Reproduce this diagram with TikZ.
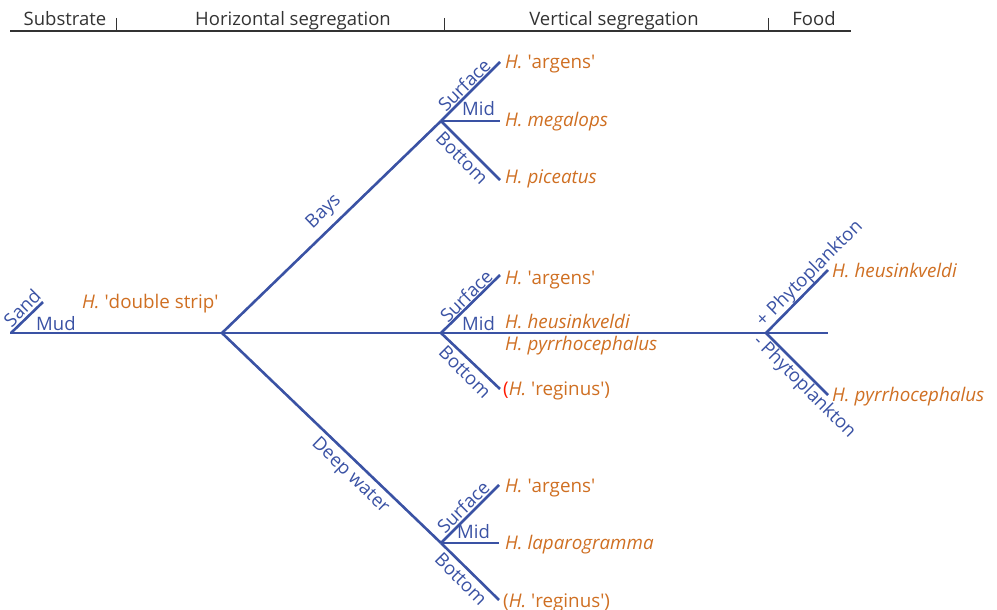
\documentclass[tikz,border=0pt]{standalone}
\usepackage{fontspec}
\setmainfont{Open Sans}
\definecolor{lineblue}{HTML}{3A52A4}
\definecolor{sporange}{HTML}{CF6F22}
\definecolor{hdrgray}{HTML}{333333}
\tikzset{
  branch/.style={draw=lineblue, line width=2.6pt},
  hdrline/.style={draw=hdrgray, line width=1.3pt},
  hdrtext/.style={text=hdrgray, font=\fontsize{18.5}{20}\selectfont, inner sep=0pt, anchor=base},
  lab/.style={text=lineblue, font=\fontsize{18.5}{20}\selectfont, inner sep=0pt},
  sp/.style={text=sporange, font=\fontsize{18.8}{20}\selectfont, inner sep=0pt, anchor=base west},
}
\newcommand{\Hs}{\textit{H.}}
\newcommand{\sq}{\textquotesingle}
\begin{document}
\begin{tikzpicture}[x=1pt,y=-1pt]
\useasboundingbox (0,0) rectangle (997,610);
% header
\coordinate (h0) at (10,31);
\coordinate (h1) at (851,31);
\draw[hdrline] (h0) -- (h1);
\foreach \x/\n in {116/a,444/b,768/c}{
  \coordinate (t\n top) at (\x,18);
  \coordinate (t\n bot) at (\x,31);
  \draw[hdrgray, line width=1pt] (t\n top) -- (t\n bot);
}
\node[hdrtext] (hsub) at (65,26) {Substrate};
\node[hdrtext] (hhor) at (293,26) {Horizontal segregation};
\node[hdrtext] (hver) at (614,26) {Vertical segregation};
\node[hdrtext] (hfood) at (814,26) {Food};

% junctions and ends
\coordinate (root) at (10,333);
\coordinate (sand) at (43,302);
\coordinate (J) at (222,333);
\coordinate (bay) at (441,121);
\coordinate (mid) at (441,333);
\coordinate (deep) at (441,543);
\coordinate (b1) at (500,62);
\coordinate (b2) at (500,121);
\coordinate (b3) at (500,180);
\coordinate (m1) at (500,275);
\coordinate (m3) at (500,389);
\coordinate (d1) at (499,485);
\coordinate (d2) at (499,543);
\coordinate (d3) at (499,600);
\coordinate (food) at (766,333);
\coordinate (f1) at (828,270);
\coordinate (f2) at (828,333);
\coordinate (f3) at (828,395);

\draw[branch] (root) -- (J) -- (mid) -- (food) -- (f2);
\draw[branch] (root) ++(1,0) -- (sand);
\draw[branch] (J) -- (bay);
\draw[branch] (J) -- (deep);
\draw[branch] (bay) -- (b1);
\draw[branch] (bay) -- (b2);
\draw[branch] (bay) -- (b3);
\draw[branch] (mid) -- (m1);
\draw[branch] (mid) -- (m3);
\draw[branch] (deep) -- (d1);
\draw[branch] (deep) -- (d2);
\draw[branch] (deep) -- (d3);
\draw[branch] (food) -- (f1);
\draw[branch] (food) -- (f3);

% branch labels
\node[lab, rotate=45] (lsand) at (22,308) {Sand};
\node[lab, anchor=base west] (lmud) at (36,330) {Mud};
\node[lab, rotate=44] (lbays) at (324,212) {Bays};
\node[lab, rotate=-44] (ldeep) at (350,476) {Deep water};
\node[lab, rotate=45] (lbs) at (464,85) {Surface};
\node[lab, anchor=base west] (lbm) at (462,115) {Mid};
\node[lab, rotate=-45] (lbb) at (462,158) {Bottom};
\node[lab, rotate=45] (lms) at (466,296) {Surface};
\node[lab, anchor=base west] (lmm) at (462,330) {Mid};
\node[lab, rotate=-45] (lmb) at (465,372) {Bottom};
\node[lab, rotate=45] (lds) at (463,507) {Surface};
\node[lab, anchor=base west] (ldm) at (457,538) {Mid};
\node[lab, rotate=-45] (ldb) at (461,579) {Bottom};
\node[lab, rotate=45] (lfp) at (810,274) {+ Phytoplankton};
\node[lab, rotate=-45] (lfm) at (804,387) {- Phytoplankton};

% species
\node[sp] (ds) at (82,308) {\Hs{} \sq double strip\sq};
\node[sp] (s1) at (505,69) {\Hs{} \sq argens\sq};
\node[sp] (s2) at (505,127) {\textit{H. megalops}};
\node[sp] (s3) at (505,183) {\textit{H. piceatus}};
\node[sp] (s4) at (505,284) {\Hs{} \sq argens\sq};
\node[sp] (s5) at (505,328) {\textit{H. heusinkveldi}};
\node[sp] (s6) at (505,350) {\textit{H. pyrrhocephalus}};
\node[sp] (s7) at (503,395) {\textcolor{red!80!orange}{(}\Hs{} \sq reginus\sq)};
\node[sp] (s8) at (505,492) {\Hs{} \sq argens\sq};
\node[sp] (s9) at (505,549) {\textit{H. laparogramma}};
\node[sp] (s10) at (503,607) {(\Hs{} \sq reginus\sq)};
\node[sp] (s11) at (832,277) {\textit{H. heusinkveldi}};
\node[sp] (s12) at (832,401) {\textit{H. pyrrhocephalus}};
\end{tikzpicture}
\end{document}
